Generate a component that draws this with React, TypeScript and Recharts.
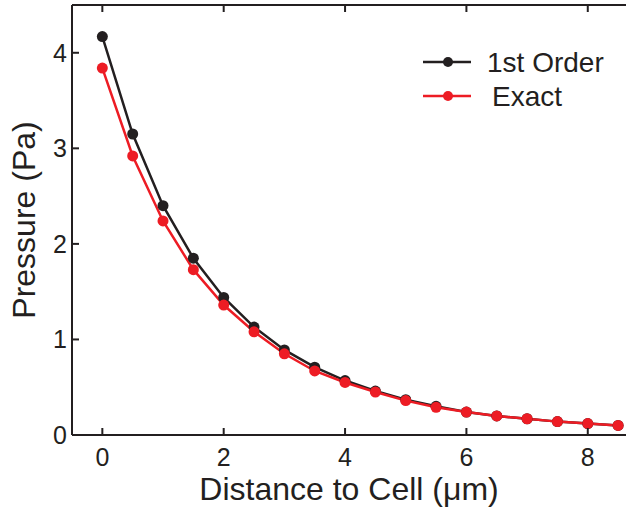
import { LineChart, Line, XAxis, YAxis } from 'recharts';

const distance = [0, 0.5, 1, 1.5, 2, 2.5, 3, 3.5, 4, 4.5, 5, 5.5, 6, 6.5, 7, 7.5, 8, 8.5];
const firstOrder = [4.17, 3.15, 2.4, 1.85, 1.44, 1.13, 0.89, 0.71, 0.57, 0.46, 0.37, 0.3, 0.24, 0.2, 0.17, 0.14, 0.12, 0.1];
const exact = [3.84, 2.92, 2.24, 1.73, 1.36, 1.08, 0.85, 0.67, 0.55, 0.45, 0.36, 0.29, 0.24, 0.2, 0.17, 0.14, 0.12, 0.1];
const xTicks = [0, 2, 4, 6, 8];
const yTicks = [0, 1, 2, 3, 4];

const FONT = '"Liberation Sans", Arial, Helvetica, sans-serif';
const INK = '#231f20';
const RED = '#ed1c24';

const data = distance.map((d, i) => ({ d, first: firstOrder[i], exact: exact[i] }));

// ticks point inward, like matlab
const BottomTick = ({ x, y, payload }: any) => (
  <g>
    <line x1={x} y1={y} x2={x} y2={y - 7} stroke={INK} strokeWidth={2} />
    <text x={x} y={y + 31} textAnchor="middle" fontSize={25} fill={INK} fontFamily={FONT}>
      {payload.value}
    </text>
  </g>
);

const TopTick = ({ x, y }: any) => (
  <line x1={x} y1={y} x2={x} y2={y + 7} stroke={INK} strokeWidth={2} />
);

const LeftTick = ({ x, y, payload }: any) => (
  <g>
    <line x1={x} y1={y} x2={x + 7} y2={y} stroke={INK} strokeWidth={2} />
    <text x={x - 5} y={y + 9} textAnchor="end" fontSize={25} fill={INK} fontFamily={FONT}>
      {payload.value}
    </text>
  </g>
);

const legendItems = [
  { name: '1st Order', color: INK, indent: 0 },
  { name: 'Exact', color: RED, indent: 5 },
];

function ChartLegend() {
  return (
    <svg width={206} height={80} style={{ position: 'absolute', left: 420, top: 50, overflow: 'visible' }}>
      {legendItems.map((item, i) => (
        <g key={item.name} transform={`translate(0, ${i * 34})`}>
          <line x1={3} y1={12} x2={51} y2={12} stroke={item.color} strokeWidth={2.5} />
          <circle cx={28} cy={12} r={5} fill={item.color} />
          <text x={67 + item.indent} y={22} fontSize={28} fill={INK} fontFamily={FONT}>
            {item.name}
          </text>
        </g>
      ))}
    </svg>
  );
}

export default function App() {
  return (
    <div style={{ position: 'absolute', left: 0, top: 0, width: 626, height: 508, background: '#fff' }}>
      <LineChart width={626} height={508} data={data} margin={{ top: 4, right: 0, bottom: 0, left: 0 }}>
        <XAxis
          xAxisId="top"
          orientation="top"
          dataKey="d"
          type="number"
          domain={[-0.5, 8.63]}
          ticks={xTicks}
          height={1}
          allowDataOverflow
          tickSize={0}
          tickMargin={0}
          tickLine={false}
          tick={<TopTick />}
          stroke={INK}
          strokeWidth={2}
        />
        <XAxis
          dataKey="d"
          type="number"
          domain={[-0.5, 8.63]}
          ticks={xTicks}
          height={73}
          allowDataOverflow
          tickSize={0}
          tickMargin={0}
          tickLine={false}
          tick={<BottomTick />}
          stroke={INK}
          strokeWidth={2}
          label={{ value: 'Distance to Cell (\u03bcm)', position: 'insideBottom', offset: 8, fill: INK, fontSize: 32, fontFamily: FONT }}
        />
        <YAxis
          domain={[0, 4.5]}
          ticks={yTicks}
          width={72}
          allowDataOverflow
          tickSize={0}
          tickMargin={0}
          tickLine={false}
          tick={<LeftTick />}
          stroke={INK}
          strokeWidth={2}
          label={{ value: 'Pressure (Pa)', position: 'center', angle: -90, dx: -12, fill: INK, fontSize: 32, fontFamily: FONT }}
        />
        <Line
          xAxisId={0}
          dataKey="first"
          name="1st Order"
          stroke={INK}
          strokeWidth={2.5}
          dot={{ r: 5.5, fill: INK, stroke: 'none' }}
          isAnimationActive={false}
        />
        <Line
          xAxisId={0}
          dataKey="exact"
          name="Exact"
          stroke={RED}
          strokeWidth={2.5}
          dot={{ r: 5.5, fill: RED, stroke: 'none' }}
          isAnimationActive={false}
        />
      </LineChart>
      <ChartLegend />
    </div>
  );
}
